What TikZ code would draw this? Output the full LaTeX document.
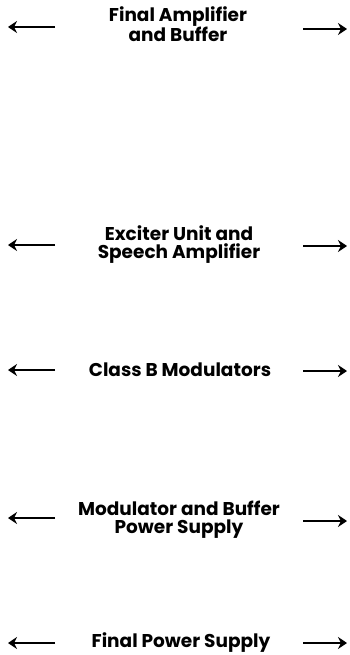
\documentclass[tikz,border=0pt]{standalone}
\usepackage{fontspec}
\setmainfont{Poppins}
\usepackage{tikz}
\usetikzlibrary{arrows.meta}

\tikzset{
  unitlabel/.style={font=\bfseries\fontsize{18.5}{18}\selectfont,align=center,inner sep=0pt},
  outarrow/.style={line width=2.5pt,-{Stealth[length=9pt,width=12pt,inset=3pt]}}
}

\begin{document}
\begin{tikzpicture}[x=1pt,y=-1pt]
  \useasboundingbox (0,0) rectangle (349,655);

  % Final amplifier
  \node[unitlabel] (finalamp) at (178,24) {Final Amplifier\\and Buffer};
  \coordinate (finalamp-lt) at (55,27);  \coordinate (finalamp-lh) at (8,27);
  \coordinate (finalamp-rt) at (303,29); \coordinate (finalamp-rh) at (347,29);

  % Exciter
  \node[unitlabel] (exciter) at (179,244.5) {Exciter Unit and\\Speech Amplifier};
  \coordinate (exciter-lt) at (55,245);  \coordinate (exciter-lh) at (8,245);
  \coordinate (exciter-rt) at (303,246); \coordinate (exciter-rh) at (347,246);

  % Modulators
  \node[unitlabel] (classb) at (180,370) {Class B Modulators};
  \coordinate (classb-lt) at (55,370);  \coordinate (classb-lh) at (8,370);
  \coordinate (classb-rt) at (303,371); \coordinate (classb-rh) at (347,371);

  % Modulator supply
  \node[unitlabel] (modsupply) at (179,520) {Modulator and Buffer\\Power Supply};
  \coordinate (modsupply-lt) at (55,518);  \coordinate (modsupply-lh) at (8,518);
  \coordinate (modsupply-rt) at (303,521); \coordinate (modsupply-rh) at (347,521);

  % Final supply
  \node[unitlabel] (finalsupply) at (181,642.5) {Final Power Supply};
  \coordinate (finalsupply-lt) at (55,643);  \coordinate (finalsupply-lh) at (8,643);
  \coordinate (finalsupply-rt) at (303,643); \coordinate (finalsupply-rh) at (347,643);

  \foreach \u in {finalamp,exciter,classb,modsupply,finalsupply} {
    \draw[outarrow] (\u-lt) -- (\u-lh);
    \draw[outarrow] (\u-rt) -- (\u-rh);
  }
\end{tikzpicture}
\end{document}
